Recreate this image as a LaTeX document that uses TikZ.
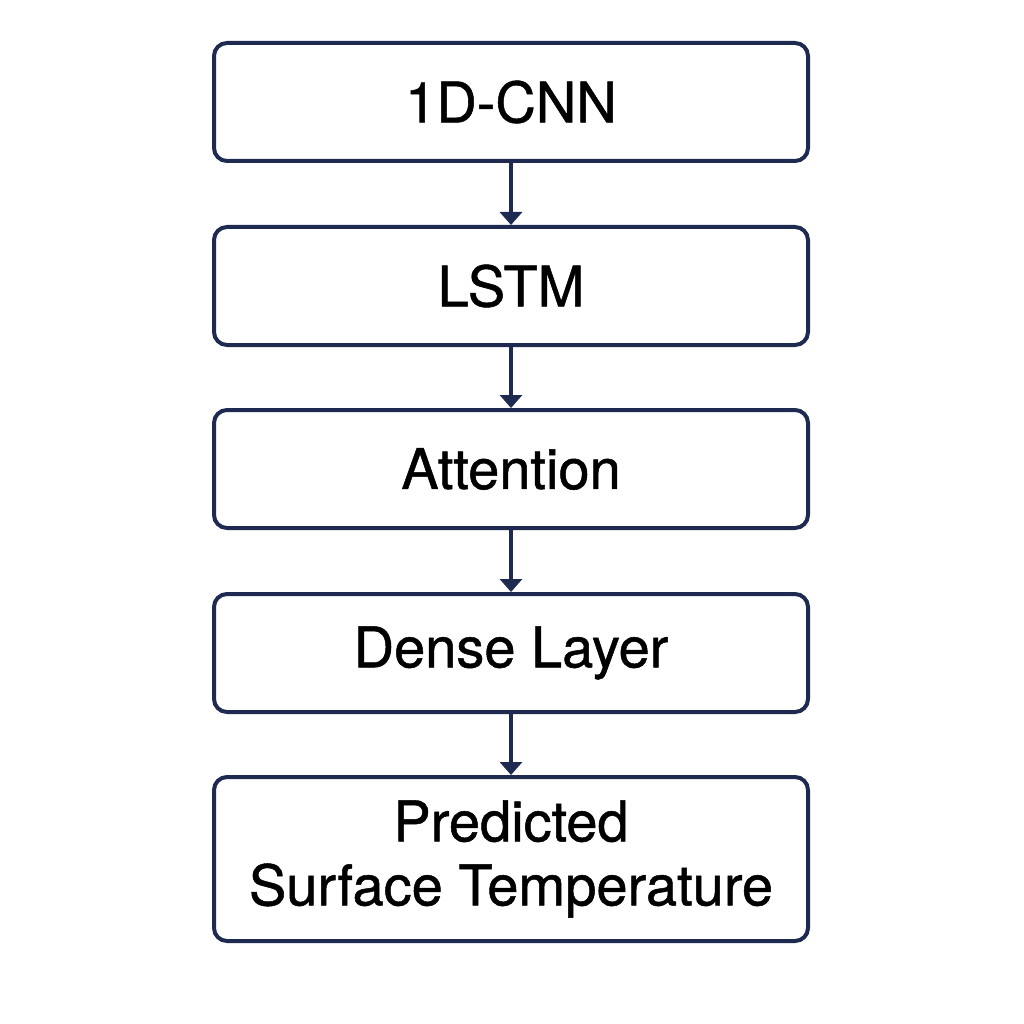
\documentclass[tikz,border=0pt]{standalone}
\usepackage{fontspec}
\setmainfont{TeX Gyre Heros}
\usetikzlibrary{arrows.meta}
\definecolor{navy}{HTML}{1F2A50}
\begin{document}
\begin{tikzpicture}[x=1pt,y=-1pt,
  blk/.style={draw=navy,line width=4pt,rounded corners=13pt,minimum width=594pt,inner sep=0pt,font=\fontsize{56}{64}\selectfont\addfontfeature{FakeBold=0.9},align=center},
  arr/.style={draw=navy,line width=3.5pt,-{Triangle[length=13pt,width=22pt]}}]
\useasboundingbox (0,0) rectangle (1024,1024);
\node[blk,minimum height=118pt] (a) at (511,102) {1D-CNN};
\node[blk,minimum height=118pt] (b) at (511,286) {LSTM};
\node[blk,minimum height=118pt] (c) at (511,469) {Attention};
\node[blk,minimum height=118pt] (d) at (511,653) {Dense Layer};
\node[blk,minimum height=164pt] (e) at (511,859) {Predicted\\Surface Temperature};
\draw[arr] (a) -- (b);
\draw[arr] (b) -- (c);
\draw[arr] (c) -- (d);
\draw[arr] (d) -- (e);
\end{tikzpicture}
\end{document}
